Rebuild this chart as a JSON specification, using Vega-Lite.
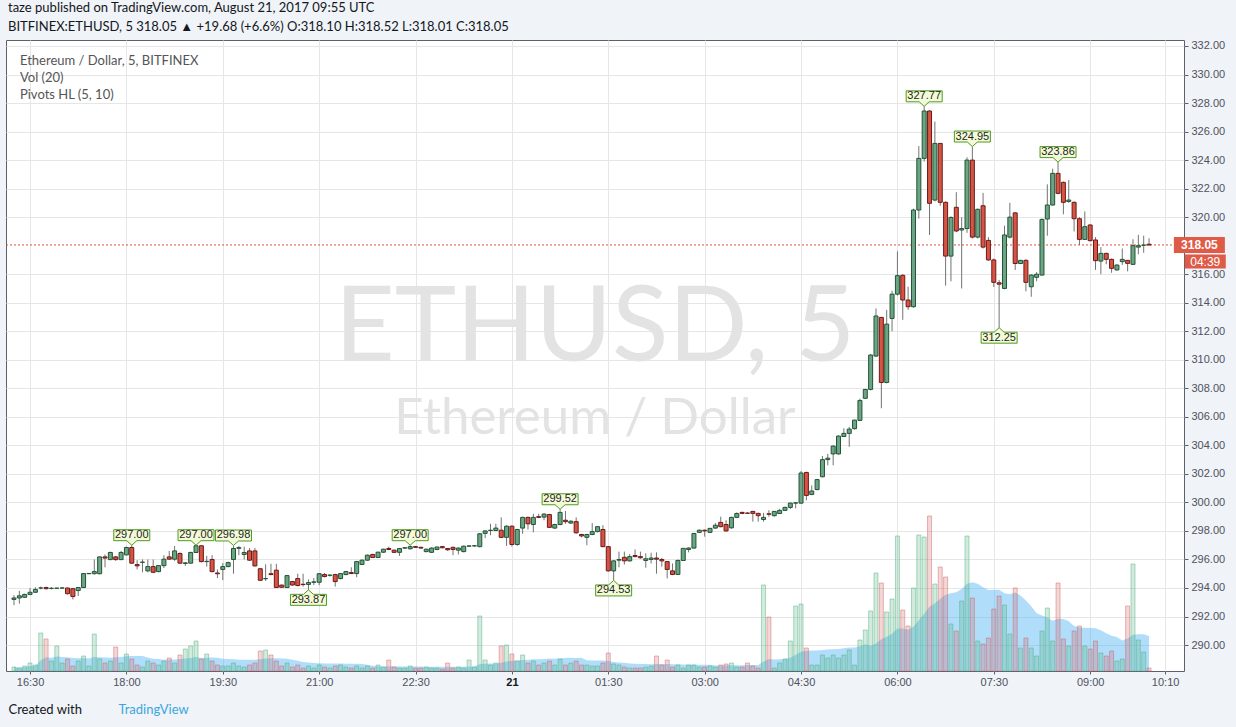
{
"$schema":"https://vega.github.io/schema/vega-lite/v6.json",
"width":1178,"height":631,
"autosize":{"type":"none"},
"padding":{"left":6,"top":40,"right":52,"bottom":56},
"background":"#f0f3f7",
"config":{"view":{"fill":"white","stroke":"#5d606b","strokeWidth":1},"font":"Lato"},
"title":{"text":"taze published on TradingView.com, August 21, 2017 09:55 UTC","subtitle":"BITFINEX:ETHUSD, 5  318.05 ▲ +19.68 (+6.6%) O:318.10 H:318.52 L:318.01 C:318.05","anchor":"start","frame":"group","font":"Lato","fontSize":13,"fontWeight":"normal","color":"#131722","subtitleFont":"Lato","subtitleFontSize":13,"subtitleFontWeight":"normal","subtitleColor":"#131722","subtitlePadding":6,"offset":6,"dx":2},
"datasets":{
"c":[
{"t":"2017-08-20T16:15:00Z","o":293.2,"h":293.5,"l":292.8,"c":293.3,"v":4},
{"t":"2017-08-20T16:20:00Z","o":293.3,"h":293.8,"l":292.9,"c":293.45,"v":3},
{"t":"2017-08-20T16:25:00Z","o":293.35,"h":293.6,"l":293.3,"c":293.55,"v":5},
{"t":"2017-08-20T16:30:00Z","o":293.55,"h":294.0,"l":293.5,"c":293.7,"v":8},
{"t":"2017-08-20T16:35:00Z","o":293.7,"h":294.05,"l":293.65,"c":293.9,"v":6},
{"t":"2017-08-20T16:40:00Z","o":294.0,"h":294.1,"l":293.9,"c":294.0,"v":38},
{"t":"2017-08-20T16:45:00Z","o":294.03,"h":294.1,"l":293.9,"c":293.95,"v":32},
{"t":"2017-08-20T16:50:00Z","o":293.97,"h":294.05,"l":293.9,"c":293.98,"v":10},
{"t":"2017-08-20T16:55:00Z","o":293.98,"h":294.0,"l":293.95,"c":293.99,"v":25},
{"t":"2017-08-20T17:00:00Z","o":294.0,"h":294.05,"l":293.95,"c":294.0,"v":8},
{"t":"2017-08-20T17:05:00Z","o":294.0,"h":294.02,"l":293.55,"c":293.6,"v":12},
{"t":"2017-08-20T17:10:00Z","o":293.95,"h":294.0,"l":293.2,"c":293.4,"v":5},
{"t":"2017-08-20T17:15:00Z","o":293.82,"h":294.05,"l":293.44,"c":294.03,"v":10},
{"t":"2017-08-20T17:20:00Z","o":294.03,"h":295.05,"l":294.0,"c":295.01,"v":15},
{"t":"2017-08-20T17:25:00Z","o":295.0,"h":295.05,"l":294.98,"c":295.02,"v":5},
{"t":"2017-08-20T17:30:00Z","o":295.0,"h":296.0,"l":294.95,"c":295.15,"v":37},
{"t":"2017-08-20T17:35:00Z","o":295.0,"h":296.2,"l":294.95,"c":296.18,"v":12},
{"t":"2017-08-20T17:40:00Z","o":296.18,"h":296.35,"l":295.45,"c":296.1,"v":8},
{"t":"2017-08-20T17:45:00Z","o":295.99,"h":296.55,"l":295.95,"c":296.49,"v":10},
{"t":"2017-08-20T17:50:00Z","o":296.18,"h":296.25,"l":295.9,"c":295.99,"v":24},
{"t":"2017-08-20T17:55:00Z","o":295.99,"h":296.6,"l":295.95,"c":296.49,"v":8},
{"t":"2017-08-20T18:00:00Z","o":296.32,"h":296.9,"l":296.3,"c":296.84,"v":17},
{"t":"2017-08-20T18:05:00Z","o":296.84,"h":297.0,"l":295.7,"c":295.74,"v":12},
{"t":"2017-08-20T18:10:00Z","o":295.64,"h":295.95,"l":295.3,"c":295.55,"v":6},
{"t":"2017-08-20T18:15:00Z","o":295.8,"h":296.0,"l":295.1,"c":295.81,"v":4},
{"t":"2017-08-20T18:20:00Z","o":295.2,"h":296.0,"l":295.1,"c":295.5,"v":10},
{"t":"2017-08-20T18:25:00Z","o":295.5,"h":296.0,"l":295.05,"c":295.1,"v":8},
{"t":"2017-08-20T18:30:00Z","o":295.15,"h":295.6,"l":295.1,"c":295.57,"v":6},
{"t":"2017-08-20T18:35:00Z","o":295.57,"h":296.3,"l":295.4,"c":296.02,"v":10},
{"t":"2017-08-20T18:40:00Z","o":296.18,"h":296.6,"l":296.0,"c":296.02,"v":13},
{"t":"2017-08-20T18:45:00Z","o":296.02,"h":296.95,"l":295.9,"c":296.6,"v":8},
{"t":"2017-08-20T18:50:00Z","o":296.42,"h":296.5,"l":295.7,"c":295.74,"v":16},
{"t":"2017-08-20T18:55:00Z","o":295.72,"h":295.8,"l":295.55,"c":295.76,"v":22},
{"t":"2017-08-20T19:00:00Z","o":295.74,"h":296.55,"l":295.7,"c":296.49,"v":25},
{"t":"2017-08-20T19:05:00Z","o":296.49,"h":297.0,"l":296.45,"c":296.96,"v":30},
{"t":"2017-08-20T19:10:00Z","o":296.96,"h":297.0,"l":295.8,"c":295.85,"v":12},
{"t":"2017-08-20T19:15:00Z","o":295.85,"h":296.25,"l":295.5,"c":295.87,"v":17},
{"t":"2017-08-20T19:20:00Z","o":296.0,"h":296.3,"l":295.1,"c":295.15,"v":10},
{"t":"2017-08-20T19:25:00Z","o":295.05,"h":295.3,"l":294.7,"c":295.0,"v":6},
{"t":"2017-08-20T19:30:00Z","o":295.3,"h":295.75,"l":294.55,"c":295.5,"v":5},
{"t":"2017-08-20T19:35:00Z","o":295.5,"h":295.85,"l":295.45,"c":295.78,"v":5},
{"t":"2017-08-20T19:40:00Z","o":296.0,"h":296.98,"l":295.0,"c":296.77,"v":8},
{"t":"2017-08-20T19:45:00Z","o":296.78,"h":296.95,"l":296.3,"c":296.83,"v":5},
{"t":"2017-08-20T19:50:00Z","o":296.35,"h":296.9,"l":296.0,"c":296.49,"v":4},
{"t":"2017-08-20T19:55:00Z","o":296.6,"h":296.8,"l":295.9,"c":295.95,"v":6},
{"t":"2017-08-20T20:00:00Z","o":296.6,"h":296.8,"l":295.5,"c":295.55,"v":8},
{"t":"2017-08-20T20:05:00Z","o":295.35,"h":295.4,"l":294.5,"c":294.54,"v":20},
{"t":"2017-08-20T20:10:00Z","o":294.65,"h":295.66,"l":294.5,"c":294.66,"v":21},
{"t":"2017-08-20T20:15:00Z","o":295.0,"h":295.7,"l":294.9,"c":294.94,"v":16},
{"t":"2017-08-20T20:20:00Z","o":295.25,"h":295.7,"l":294.0,"c":294.03,"v":10},
{"t":"2017-08-20T20:25:00Z","o":294.2,"h":294.25,"l":294.0,"c":294.05,"v":5},
{"t":"2017-08-20T20:30:00Z","o":294.03,"h":294.9,"l":294.0,"c":294.87,"v":8},
{"t":"2017-08-20T20:35:00Z","o":294.45,"h":294.5,"l":294.15,"c":294.21,"v":4},
{"t":"2017-08-20T20:40:00Z","o":294.66,"h":295.0,"l":294.12,"c":294.17,"v":6},
{"t":"2017-08-20T20:45:00Z","o":294.26,"h":295.0,"l":294.1,"c":294.24,"v":3},
{"t":"2017-08-20T20:50:00Z","o":294.25,"h":294.6,"l":293.87,"c":294.38,"v":5},
{"t":"2017-08-20T20:55:00Z","o":294.4,"h":294.7,"l":294.2,"c":294.43,"v":3},
{"t":"2017-08-20T21:00:00Z","o":294.4,"h":295.05,"l":294.2,"c":295.0,"v":6},
{"t":"2017-08-20T21:05:00Z","o":294.94,"h":295.05,"l":294.75,"c":294.8,"v":4},
{"t":"2017-08-20T21:10:00Z","o":294.89,"h":294.95,"l":294.8,"c":294.9,"v":3},
{"t":"2017-08-20T21:15:00Z","o":294.94,"h":295.0,"l":294.1,"c":294.45,"v":5},
{"t":"2017-08-20T21:20:00Z","o":294.66,"h":295.05,"l":294.6,"c":295.01,"v":6},
{"t":"2017-08-20T21:25:00Z","o":294.94,"h":295.2,"l":294.9,"c":295.15,"v":4},
{"t":"2017-08-20T21:30:00Z","o":295.08,"h":295.45,"l":295.0,"c":295.01,"v":3},
{"t":"2017-08-20T21:35:00Z","o":295.01,"h":295.9,"l":294.75,"c":295.85,"v":5},
{"t":"2017-08-20T21:40:00Z","o":295.65,"h":296.0,"l":295.6,"c":295.95,"v":3},
{"t":"2017-08-20T21:45:00Z","o":295.95,"h":296.35,"l":295.9,"c":296.3,"v":5},
{"t":"2017-08-20T21:50:00Z","o":296.35,"h":296.4,"l":296.1,"c":296.14,"v":3},
{"t":"2017-08-20T21:55:00Z","o":296.14,"h":296.55,"l":296.1,"c":296.51,"v":6},
{"t":"2017-08-20T22:00:00Z","o":296.51,"h":296.75,"l":296.45,"c":296.72,"v":4},
{"t":"2017-08-20T22:05:00Z","o":296.77,"h":296.9,"l":296.65,"c":296.7,"v":11},
{"t":"2017-08-20T22:10:00Z","o":296.65,"h":296.7,"l":296.45,"c":296.5,"v":4},
{"t":"2017-08-20T22:15:00Z","o":296.5,"h":296.8,"l":296.25,"c":296.77,"v":3},
{"t":"2017-08-20T22:20:00Z","o":296.8,"h":296.85,"l":296.75,"c":296.82,"v":3},
{"t":"2017-08-20T22:25:00Z","o":296.75,"h":297.0,"l":296.7,"c":296.9,"v":5},
{"t":"2017-08-20T22:30:00Z","o":296.9,"h":296.95,"l":296.8,"c":296.85,"v":3},
{"t":"2017-08-20T22:35:00Z","o":296.85,"h":296.9,"l":296.75,"c":296.8,"v":3},
{"t":"2017-08-20T22:40:00Z","o":296.55,"h":296.75,"l":296.5,"c":296.72,"v":4},
{"t":"2017-08-20T22:45:00Z","o":296.5,"h":296.85,"l":296.45,"c":296.8,"v":3},
{"t":"2017-08-20T22:50:00Z","o":296.7,"h":296.9,"l":296.65,"c":296.87,"v":3},
{"t":"2017-08-20T22:55:00Z","o":296.9,"h":296.95,"l":296.78,"c":296.82,"v":2},
{"t":"2017-08-20T23:00:00Z","o":296.77,"h":296.8,"l":296.6,"c":296.68,"v":8},
{"t":"2017-08-20T23:05:00Z","o":296.85,"h":296.9,"l":296.3,"c":296.7,"v":3},
{"t":"2017-08-20T23:10:00Z","o":296.65,"h":296.85,"l":296.35,"c":296.8,"v":4},
{"t":"2017-08-20T23:15:00Z","o":296.55,"h":296.97,"l":296.5,"c":296.93,"v":3},
{"t":"2017-08-20T23:20:00Z","o":296.93,"h":296.98,"l":296.9,"c":296.95,"v":11},
{"t":"2017-08-20T23:25:00Z","o":296.95,"h":297.0,"l":296.9,"c":296.96,"v":4},
{"t":"2017-08-20T23:30:00Z","o":296.9,"h":297.85,"l":296.85,"c":297.8,"v":55},
{"t":"2017-08-20T23:35:00Z","o":297.83,"h":298.05,"l":297.5,"c":298.0,"v":11},
{"t":"2017-08-20T23:40:00Z","o":298.03,"h":298.5,"l":297.7,"c":298.05,"v":6},
{"t":"2017-08-20T23:45:00Z","o":298.03,"h":298.5,"l":298.0,"c":298.2,"v":8},
{"t":"2017-08-20T23:50:00Z","o":298.05,"h":298.95,"l":297.5,"c":297.55,"v":25},
{"t":"2017-08-20T23:55:00Z","o":297.55,"h":298.4,"l":296.95,"c":298.33,"v":26},
{"t":"2017-08-21T00:00:00Z","o":298.33,"h":298.4,"l":296.9,"c":297.05,"v":17},
{"t":"2017-08-21T00:05:00Z","o":297.05,"h":298.15,"l":296.95,"c":298.1,"v":10},
{"t":"2017-08-21T00:10:00Z","o":298.2,"h":299.0,"l":297.8,"c":298.95,"v":16},
{"t":"2017-08-21T00:15:00Z","o":298.95,"h":299.0,"l":298.1,"c":298.5,"v":8},
{"t":"2017-08-21T00:20:00Z","o":298.45,"h":299.2,"l":297.9,"c":298.95,"v":10},
{"t":"2017-08-21T00:25:00Z","o":299.0,"h":299.2,"l":298.9,"c":298.95,"v":6},
{"t":"2017-08-21T00:30:00Z","o":298.97,"h":299.25,"l":298.75,"c":299.18,"v":8},
{"t":"2017-08-21T00:35:00Z","o":299.15,"h":299.2,"l":298.2,"c":298.25,"v":10},
{"t":"2017-08-21T00:40:00Z","o":298.2,"h":298.5,"l":298.15,"c":298.45,"v":6},
{"t":"2017-08-21T00:45:00Z","o":298.45,"h":299.52,"l":298.4,"c":299.3,"v":12},
{"t":"2017-08-21T00:50:00Z","o":298.75,"h":299.4,"l":298.5,"c":298.65,"v":6},
{"t":"2017-08-21T00:55:00Z","o":298.55,"h":298.75,"l":298.5,"c":298.68,"v":8},
{"t":"2017-08-21T01:00:00Z","o":298.65,"h":298.95,"l":297.8,"c":297.87,"v":10},
{"t":"2017-08-21T01:05:00Z","o":297.75,"h":297.8,"l":297.55,"c":297.65,"v":6},
{"t":"2017-08-21T01:10:00Z","o":297.55,"h":297.8,"l":297.0,"c":297.75,"v":6},
{"t":"2017-08-21T01:15:00Z","o":297.75,"h":298.55,"l":297.7,"c":297.95,"v":5},
{"t":"2017-08-21T01:20:00Z","o":297.95,"h":298.35,"l":297.9,"c":298.3,"v":5},
{"t":"2017-08-21T01:25:00Z","o":298.1,"h":298.4,"l":296.85,"c":296.9,"v":8},
{"t":"2017-08-21T01:30:00Z","o":296.9,"h":296.95,"l":295.15,"c":295.2,"v":18},
{"t":"2017-08-21T01:35:00Z","o":295.2,"h":295.95,"l":294.53,"c":295.9,"v":7},
{"t":"2017-08-21T01:40:00Z","o":295.95,"h":296.55,"l":295.45,"c":296.0,"v":6},
{"t":"2017-08-21T01:45:00Z","o":296.15,"h":296.55,"l":295.65,"c":295.9,"v":4},
{"t":"2017-08-21T01:50:00Z","o":295.9,"h":296.38,"l":295.85,"c":296.2,"v":3},
{"t":"2017-08-21T01:55:00Z","o":296.28,"h":296.7,"l":296.15,"c":296.2,"v":3},
{"t":"2017-08-21T02:00:00Z","o":296.2,"h":296.55,"l":296.05,"c":296.12,"v":3},
{"t":"2017-08-21T02:05:00Z","o":295.93,"h":296.43,"l":295.42,"c":296.05,"v":4},
{"t":"2017-08-21T02:10:00Z","o":296.0,"h":296.47,"l":295.72,"c":296.1,"v":5},
{"t":"2017-08-21T02:15:00Z","o":296.1,"h":296.5,"l":295.0,"c":296.02,"v":15},
{"t":"2017-08-21T02:20:00Z","o":296.0,"h":296.1,"l":295.5,"c":295.9,"v":6},
{"t":"2017-08-21T02:25:00Z","o":295.85,"h":295.9,"l":294.67,"c":295.3,"v":11},
{"t":"2017-08-21T02:30:00Z","o":295.2,"h":295.72,"l":294.9,"c":294.95,"v":4},
{"t":"2017-08-21T02:35:00Z","o":294.95,"h":296.0,"l":294.9,"c":295.93,"v":6},
{"t":"2017-08-21T02:40:00Z","o":295.93,"h":296.8,"l":295.9,"c":296.78,"v":3},
{"t":"2017-08-21T02:45:00Z","o":296.7,"h":296.85,"l":296.5,"c":296.8,"v":6},
{"t":"2017-08-21T02:50:00Z","o":296.8,"h":297.85,"l":296.75,"c":297.82,"v":6},
{"t":"2017-08-21T02:55:00Z","o":297.9,"h":298.1,"l":297.85,"c":298.05,"v":4},
{"t":"2017-08-21T03:00:00Z","o":298.05,"h":298.1,"l":297.6,"c":298.0,"v":4},
{"t":"2017-08-21T03:05:00Z","o":297.9,"h":298.2,"l":297.85,"c":298.18,"v":5},
{"t":"2017-08-21T03:10:00Z","o":298.2,"h":298.55,"l":298.15,"c":298.4,"v":4},
{"t":"2017-08-21T03:15:00Z","o":298.6,"h":299.0,"l":298.25,"c":298.3,"v":6},
{"t":"2017-08-21T03:20:00Z","o":298.45,"h":298.75,"l":297.95,"c":298.0,"v":7},
{"t":"2017-08-21T03:25:00Z","o":298.22,"h":299.0,"l":298.15,"c":298.95,"v":8},
{"t":"2017-08-21T03:30:00Z","o":298.95,"h":299.3,"l":298.9,"c":299.22,"v":4},
{"t":"2017-08-21T03:35:00Z","o":299.3,"h":299.35,"l":299.2,"c":299.23,"v":4},
{"t":"2017-08-21T03:40:00Z","o":299.25,"h":299.3,"l":299.2,"c":299.24,"v":8},
{"t":"2017-08-21T03:45:00Z","o":299.37,"h":299.4,"l":298.65,"c":299.23,"v":5},
{"t":"2017-08-21T03:50:00Z","o":299.23,"h":299.28,"l":298.65,"c":299.07,"v":3},
{"t":"2017-08-21T03:55:00Z","o":298.8,"h":299.27,"l":298.65,"c":298.95,"v":86},
{"t":"2017-08-21T04:00:00Z","o":299.2,"h":299.45,"l":299.0,"c":299.17,"v":54},
{"t":"2017-08-21T04:05:00Z","o":299.07,"h":299.4,"l":299.0,"c":299.37,"v":3},
{"t":"2017-08-21T04:10:00Z","o":299.22,"h":299.55,"l":299.2,"c":299.44,"v":8},
{"t":"2017-08-21T04:15:00Z","o":299.44,"h":299.7,"l":299.4,"c":299.65,"v":12},
{"t":"2017-08-21T04:20:00Z","o":299.65,"h":300.0,"l":299.53,"c":299.95,"v":30},
{"t":"2017-08-21T04:25:00Z","o":299.95,"h":300.0,"l":299.58,"c":299.97,"v":65},
{"t":"2017-08-21T04:30:00Z","o":299.95,"h":302.2,"l":299.9,"c":302.06,"v":67},
{"t":"2017-08-21T04:35:00Z","o":302.1,"h":302.15,"l":300.15,"c":300.49,"v":23},
{"t":"2017-08-21T04:40:00Z","o":300.56,"h":301.2,"l":300.5,"c":300.8,"v":6},
{"t":"2017-08-21T04:45:00Z","o":300.9,"h":301.65,"l":300.85,"c":301.6,"v":6},
{"t":"2017-08-21T04:50:00Z","o":301.8,"h":303.25,"l":301.75,"c":303.0,"v":16},
{"t":"2017-08-21T04:55:00Z","o":303.0,"h":303.4,"l":302.6,"c":303.1,"v":13},
{"t":"2017-08-21T05:00:00Z","o":303.4,"h":304.0,"l":302.6,"c":303.95,"v":16},
{"t":"2017-08-21T05:05:00Z","o":303.4,"h":304.7,"l":303.35,"c":304.65,"v":13},
{"t":"2017-08-21T05:10:00Z","o":304.62,"h":305.2,"l":304.6,"c":304.84,"v":16},
{"t":"2017-08-21T05:15:00Z","o":304.84,"h":305.3,"l":303.9,"c":305.14,"v":21},
{"t":"2017-08-21T05:20:00Z","o":305.17,"h":305.8,"l":305.1,"c":305.77,"v":6},
{"t":"2017-08-21T05:25:00Z","o":305.75,"h":307.27,"l":305.7,"c":307.15,"v":31},
{"t":"2017-08-21T05:30:00Z","o":307.3,"h":307.95,"l":307.25,"c":307.92,"v":41},
{"t":"2017-08-21T05:35:00Z","o":307.92,"h":310.4,"l":307.85,"c":310.33,"v":60},
{"t":"2017-08-21T05:40:00Z","o":310.26,"h":313.6,"l":310.2,"c":313.07,"v":98},
{"t":"2017-08-21T05:45:00Z","o":312.97,"h":313.0,"l":306.6,"c":308.41,"v":88},
{"t":"2017-08-21T05:50:00Z","o":308.41,"h":313.5,"l":308.35,"c":312.5,"v":59},
{"t":"2017-08-21T05:55:00Z","o":312.9,"h":314.84,"l":312.0,"c":314.6,"v":72},
{"t":"2017-08-21T06:00:00Z","o":314.6,"h":317.6,"l":314.5,"c":315.9,"v":135},
{"t":"2017-08-21T06:05:00Z","o":315.92,"h":316.0,"l":312.8,"c":314.19,"v":61},
{"t":"2017-08-21T06:10:00Z","o":314.19,"h":315.12,"l":313.5,"c":313.72,"v":45},
{"t":"2017-08-21T06:15:00Z","o":313.72,"h":320.6,"l":313.65,"c":320.5,"v":83},
{"t":"2017-08-21T06:20:00Z","o":320.5,"h":324.98,"l":319.9,"c":324.12,"v":136},
{"t":"2017-08-21T06:25:00Z","o":324.12,"h":327.77,"l":323.9,"c":327.44,"v":134},
{"t":"2017-08-21T06:30:00Z","o":327.44,"h":327.5,"l":318.75,"c":320.97,"v":155},
{"t":"2017-08-21T06:35:00Z","o":321.2,"h":326.7,"l":321.1,"c":325.17,"v":87},
{"t":"2017-08-21T06:40:00Z","o":325.17,"h":325.2,"l":320.8,"c":321.04,"v":104},
{"t":"2017-08-21T06:45:00Z","o":321.04,"h":321.1,"l":315.2,"c":317.27,"v":94},
{"t":"2017-08-21T06:50:00Z","o":317.27,"h":320.05,"l":315.5,"c":319.98,"v":47},
{"t":"2017-08-21T06:55:00Z","o":320.69,"h":321.75,"l":318.95,"c":319.03,"v":40},
{"t":"2017-08-21T07:00:00Z","o":319.1,"h":320.0,"l":315.0,"c":319.2,"v":70},
{"t":"2017-08-21T07:05:00Z","o":319.2,"h":324.2,"l":318.9,"c":324.0,"v":135},
{"t":"2017-08-21T07:10:00Z","o":324.0,"h":324.95,"l":318.5,"c":318.6,"v":73},
{"t":"2017-08-21T07:15:00Z","o":318.6,"h":320.6,"l":318.5,"c":320.55,"v":30},
{"t":"2017-08-21T07:20:00Z","o":320.8,"h":321.7,"l":317.8,"c":317.9,"v":27},
{"t":"2017-08-21T07:25:00Z","o":318.37,"h":318.6,"l":316.95,"c":317.0,"v":33},
{"t":"2017-08-21T07:30:00Z","o":317.0,"h":317.1,"l":315.1,"c":315.43,"v":62},
{"t":"2017-08-21T07:35:00Z","o":315.4,"h":315.6,"l":312.25,"c":315.3,"v":75},
{"t":"2017-08-21T07:40:00Z","o":315.0,"h":319.4,"l":314.95,"c":318.75,"v":66},
{"t":"2017-08-21T07:45:00Z","o":318.6,"h":321.0,"l":318.5,"c":320.0,"v":37},
{"t":"2017-08-21T07:50:00Z","o":320.3,"h":320.35,"l":316.3,"c":316.75,"v":83},
{"t":"2017-08-21T07:55:00Z","o":316.75,"h":317.0,"l":316.7,"c":316.97,"v":23},
{"t":"2017-08-21T08:00:00Z","o":316.97,"h":317.05,"l":314.8,"c":315.43,"v":33},
{"t":"2017-08-21T08:05:00Z","o":315.12,"h":316.0,"l":314.42,"c":315.94,"v":23},
{"t":"2017-08-21T08:10:00Z","o":315.78,"h":316.15,"l":315.5,"c":316.0,"v":15},
{"t":"2017-08-21T08:15:00Z","o":315.94,"h":319.9,"l":315.9,"c":319.84,"v":40},
{"t":"2017-08-21T08:20:00Z","o":319.87,"h":322.3,"l":318.7,"c":320.85,"v":63},
{"t":"2017-08-21T08:25:00Z","o":320.85,"h":323.4,"l":320.8,"c":323.07,"v":30},
{"t":"2017-08-21T08:30:00Z","o":323.07,"h":323.86,"l":321.6,"c":321.67,"v":88},
{"t":"2017-08-21T08:35:00Z","o":322.44,"h":322.5,"l":320.2,"c":321.04,"v":32},
{"t":"2017-08-21T08:40:00Z","o":321.1,"h":322.6,"l":321.0,"c":321.2,"v":25},
{"t":"2017-08-21T08:45:00Z","o":321.04,"h":321.1,"l":319.0,"c":319.89,"v":40},
{"t":"2017-08-21T08:50:00Z","o":319.89,"h":320.0,"l":318.05,"c":318.44,"v":45},
{"t":"2017-08-21T08:55:00Z","o":318.44,"h":320.4,"l":318.4,"c":319.33,"v":25},
{"t":"2017-08-21T09:00:00Z","o":319.45,"h":319.5,"l":318.3,"c":318.35,"v":22},
{"t":"2017-08-21T09:05:00Z","o":318.4,"h":318.6,"l":316.3,"c":316.95,"v":30},
{"t":"2017-08-21T09:10:00Z","o":316.92,"h":317.9,"l":316.0,"c":317.46,"v":18},
{"t":"2017-08-21T09:15:00Z","o":317.46,"h":317.5,"l":316.7,"c":317.04,"v":15},
{"t":"2017-08-21T09:20:00Z","o":317.04,"h":317.1,"l":316.1,"c":316.41,"v":20},
{"t":"2017-08-21T09:25:00Z","o":316.3,"h":316.7,"l":316.25,"c":316.64,"v":10},
{"t":"2017-08-21T09:30:00Z","o":316.88,"h":317.8,"l":316.65,"c":317.04,"v":12},
{"t":"2017-08-21T09:35:00Z","o":316.97,"h":317.0,"l":316.2,"c":316.76,"v":65},
{"t":"2017-08-21T09:40:00Z","o":316.69,"h":318.45,"l":316.65,"c":318.0,"v":107},
{"t":"2017-08-21T09:45:00Z","o":317.9,"h":318.76,"l":317.4,"c":318.0,"v":31},
{"t":"2017-08-21T09:50:00Z","o":318.03,"h":318.7,"l":317.5,"c":318.04,"v":19},
{"t":"2017-08-21T09:55:00Z","o":318.1,"h":318.52,"l":318.01,"c":318.05,"v":3}
],
"pv":[
{"t":"2017-08-20T18:05:00Z","p":297.00,"k":"H"},
{"t":"2017-08-20T19:05:00Z","p":297.00,"k":"H"},
{"t":"2017-08-20T19:40:00Z","p":296.98,"k":"H"},
{"t":"2017-08-20T20:50:00Z","p":293.87,"k":"L"},
{"t":"2017-08-20T22:25:00Z","p":297.00,"k":"H"},
{"t":"2017-08-21T00:45:00Z","p":299.52,"k":"H"},
{"t":"2017-08-21T01:35:00Z","p":294.53,"k":"L"},
{"t":"2017-08-21T06:25:00Z","p":327.77,"k":"H"},
{"t":"2017-08-21T07:10:00Z","p":324.95,"k":"H"},
{"t":"2017-08-21T07:35:00Z","p":312.25,"k":"L"},
{"t":"2017-08-21T08:30:00Z","p":323.86,"k":"H"}
]
},
"layer":[
{"data":{"name":"c"},
"transform":[{"window":[{"op":"mean","field":"v","as":"vma"}],"frame":[-19,0],"sort":[{"field":"t","order":"ascending"}]}],
"mark":{"type":"area","color":"#4fb3f5","opacity":0.45,"interpolate":"linear"},
"encoding":{"x":{"field":"t","type":"temporal","scale":{"type":"utc","nice":false,"domain":[1503245533000,1503310978000]},
"axis":{"orient":"bottom","values":[1503246600000,1503252000000,1503257400000,1503262800000,1503268200000,1503273600000,1503279000000,1503284400000,1503289800000,1503295200000,1503300600000,1503306000000,1503310200000],
"labelExpr":"(utchours(datum.value) == 0 && utcminutes(datum.value) == 0) ? '21' : utcFormat(datum.value, '%H:%M')",
"labelFontWeight":{"condition":{"test":"utchours(datum.value) == 0","value":"bold"},"value":"normal"},
"labelColor":{"condition":{"test":"utchours(datum.value) == 0","value":"#131722"},"value":"#4c525e"},
"labelFont":"Liberation Sans","labelFontSize":11,"labelPadding":2,"labelOverlap":false,"labelFlush":false,
"grid":true,"gridColor":"#e6e6e6","domain":false,"ticks":true,"tickSize":3,"tickColor":"#5d606b",
"title":"Created with","titleColor":"#131722","titleFont":"Lato","titleFontSize":13,"titleFontWeight":"normal","titleAnchor":"start","titleAlign":"left","titleBaseline":"middle","titleX":2,"titleY":38}},
"y":{"field":"vma","type":"quantitative","scale":{"domain":[0,631],"nice":false},"axis":null}}},
{"data":{"name":"c"},
"mark":{"type":"bar","width":4,"strokeWidth":1},
"encoding":{"x":{"field":"t","type":"temporal"},
"y":{"field":"v","type":"quantitative","scale":{"domain":[0,631],"nice":false},
"axis":{"orient":"left","title":"TradingView","titleColor":"#3aa6e0","titleFont":"Lato","titleFontSize":13,"titleFontWeight":"normal","titleAngle":0,"titleAlign":"left","titleBaseline":"middle","titleX":112,"titleY":669,"labels":false,"ticks":false,"grid":false,"domain":false}},
"fill":{"condition":{"test":"datum.c >= datum.o","value":"#4caf7a"},"value":"#d06060"},
"fillOpacity":{"value":0.25},
"stroke":{"condition":{"test":"datum.c >= datum.o","value":"#4caf7a"},"value":"#d06060"},
"strokeOpacity":{"value":0.45}}},
{"data":{"values":[{}]},
"mark":{"type":"text","text":"ETHUSD, 5","font":"Lato","fontSize":104,"color":"#e3e3e3","align":"center","baseline":"alphabetic"},
"encoding":{"x":{"datum":1503278256000,"type":"temporal"},
"y":{"datum":309.91,"type":"quantitative","scale":{"domain":[288.18,332.42],"nice":false,"zero":false},"axis":null}}},
{"data":{"values":[{}]},
"mark":{"type":"text","text":"Ethereum / Dollar","font":"Lato","fontSize":51,"color":"#e3e3e3","align":"center","baseline":"alphabetic"},
"encoding":{"x":{"datum":1503278256000,"type":"temporal"},
"y":{"datum":304.8,"type":"quantitative","scale":{"domain":[288.18,332.42],"nice":false,"zero":false},"axis":null}}},
{"data":{"values":[{}]},
"mark":{"type":"text","text":["Ethereum / Dollar, 5, BITFINEX","Vol (20)","Pivots HL (5, 10)"],"lineHeight":17,"font":"Lato","fontSize":13,"color":"#555555","align":"left","baseline":"alphabetic","dx":6},
"encoding":{"x":{"datum":1503245700000,"type":"temporal"},
"y":{"datum":330.67,"type":"quantitative","scale":{"domain":[288.18,332.42],"nice":false,"zero":false},"axis":null}}},
{"data":{"values":[{}]},
"mark":{"type":"rule","color":"#e0503c","strokeDash":[2,2],"strokeWidth":1},
"encoding":{"y":{"datum":318.05,"type":"quantitative","scale":{"domain":[288.18,332.42],"nice":false,"zero":false},"axis":null}}},
{"data":{"name":"c"},
"mark":{"type":"rule","color":"#737373","strokeWidth":1},
"encoding":{"x":{"field":"t","type":"temporal"},
"y":{"field":"l","type":"quantitative","scale":{"domain":[288.18,332.42],"nice":false,"zero":false},
"axis":{"orient":"right","title":null,"values":[290,292,294,296,298,300,302,304,306,308,310,312,314,316,320,322,324,326,328,330,332],"format":".2f","grid":true,"gridColor":"#e6e6e6","domain":false,"ticks":true,"tickSize":4,"tickColor":"#5d606b","labelFont":"Liberation Sans","labelFontSize":11,"labelColor":"#4c525e","labelPadding":3,"labelFlush":false,"labelOverlap":false}},
"y2":{"field":"h"}}},
{"data":{"name":"c"},
"mark":{"type":"bar","width":4,"strokeWidth":1},
"encoding":{"x":{"field":"t","type":"temporal"},
"y":{"field":"o","type":"quantitative","scale":{"domain":[288.18,332.42],"nice":false,"zero":false},"axis":null},
"y2":{"field":"c"},
"fill":{"condition":{"test":"datum.c >= datum.o","value":"#6ba583"},"value":"#d75442"},
"stroke":{"condition":{"test":"datum.c >= datum.o","value":"#225437"},"value":"#6b1a1a"}}},
{"data":{"name":"pv"},
"transform":[{"filter":"datum.k == 'H'"}],
"mark":{"type":"point","shape":"M0,0L-0.25,-0.225L-0.9,-0.225L-0.9,-0.775L0.9,-0.775L0.9,-0.225L0.25,-0.225Z","size":1600,"filled":true,"fill":"#f3fad8","stroke":"#4f9a1f","strokeWidth":1,"opacity":1},
"encoding":{"x":{"field":"t","type":"temporal"},
"y":{"field":"p","type":"quantitative","scale":{"domain":[288.18,332.42],"nice":false,"zero":false},"axis":null}}},
{"data":{"name":"pv"},
"transform":[{"filter":"datum.k == 'L'"}],
"mark":{"type":"point","shape":"M0,0L0.25,0.225L0.9,0.225L0.9,0.775L-0.9,0.775L-0.9,0.225L-0.25,0.225Z","size":1600,"filled":true,"fill":"#f3fad8","stroke":"#4f9a1f","strokeWidth":1,"opacity":1},
"encoding":{"x":{"field":"t","type":"temporal"},
"y":{"field":"p","type":"quantitative","scale":{"domain":[288.18,332.42],"nice":false,"zero":false},"axis":null}}},
{"data":{"name":"pv"},
"transform":[{"filter":"datum.k == 'H'"}],
"mark":{"type":"text","dy":-10,"font":"Liberation Sans","fontSize":11,"color":"#1e1e1e","baseline":"middle","align":"center"},
"encoding":{"x":{"field":"t","type":"temporal"},
"y":{"field":"p","type":"quantitative","scale":{"domain":[288.18,332.42],"nice":false,"zero":false},"axis":null},
"text":{"field":"p","type":"quantitative","format":".2f"}}},
{"data":{"name":"pv"},
"transform":[{"filter":"datum.k == 'L'"}],
"mark":{"type":"text","dy":10,"font":"Liberation Sans","fontSize":11,"color":"#1e1e1e","baseline":"middle","align":"center"},
"encoding":{"x":{"field":"t","type":"temporal"},
"y":{"field":"p","type":"quantitative","scale":{"domain":[288.18,332.42],"nice":false,"zero":false},"axis":null},
"text":{"field":"p","type":"quantitative","format":".2f"}}},
{"data":{"values":[{}]},
"mark":{"type":"point","shape":"M-1,-0.314L1,-0.314L1,0.314L-1,0.314Z","size":2601,"filled":true,"fill":"#df5a47","strokeWidth":0,"opacity":1,"clip":false},
"encoding":{"x":{"datum":1503312120000,"type":"temporal"},
"y":{"datum":318.05,"type":"quantitative","scale":{"domain":[288.18,332.42],"nice":false,"zero":false},"axis":null}}},
{"data":{"values":[{}]},
"mark":{"type":"text","text":"318.05","font":"Liberation Sans","fontSize":12,"fontWeight":"bold","color":"white","align":"center","baseline":"middle","clip":false},
"encoding":{"x":{"datum":1503312120000,"type":"temporal"},
"y":{"datum":318.05,"type":"quantitative","scale":{"domain":[288.18,332.42],"nice":false,"zero":false},"axis":null}}},
{"data":{"values":[{}]},
"mark":{"type":"point","shape":"M-1,-0.341L1,-0.341L1,0.341L-1,0.341Z","size":1681,"filled":true,"fill":"#df5a47","strokeWidth":0,"opacity":1,"clip":false},
"encoding":{"x":{"datum":1503312450000,"type":"temporal"},
"y":{"datum":316.89,"type":"quantitative","scale":{"domain":[288.18,332.42],"nice":false,"zero":false},"axis":null}}},
{"data":{"values":[{}]},
"mark":{"type":"text","text":"04:39","font":"Liberation Sans","fontSize":12,"color":"white","align":"center","baseline":"middle","clip":false},
"encoding":{"x":{"datum":1503312450000,"type":"temporal"},
"y":{"datum":316.89,"type":"quantitative","scale":{"domain":[288.18,332.42],"nice":false,"zero":false},"axis":null}}}
],
"resolve":{"scale":{"y":"independent"}}
}
